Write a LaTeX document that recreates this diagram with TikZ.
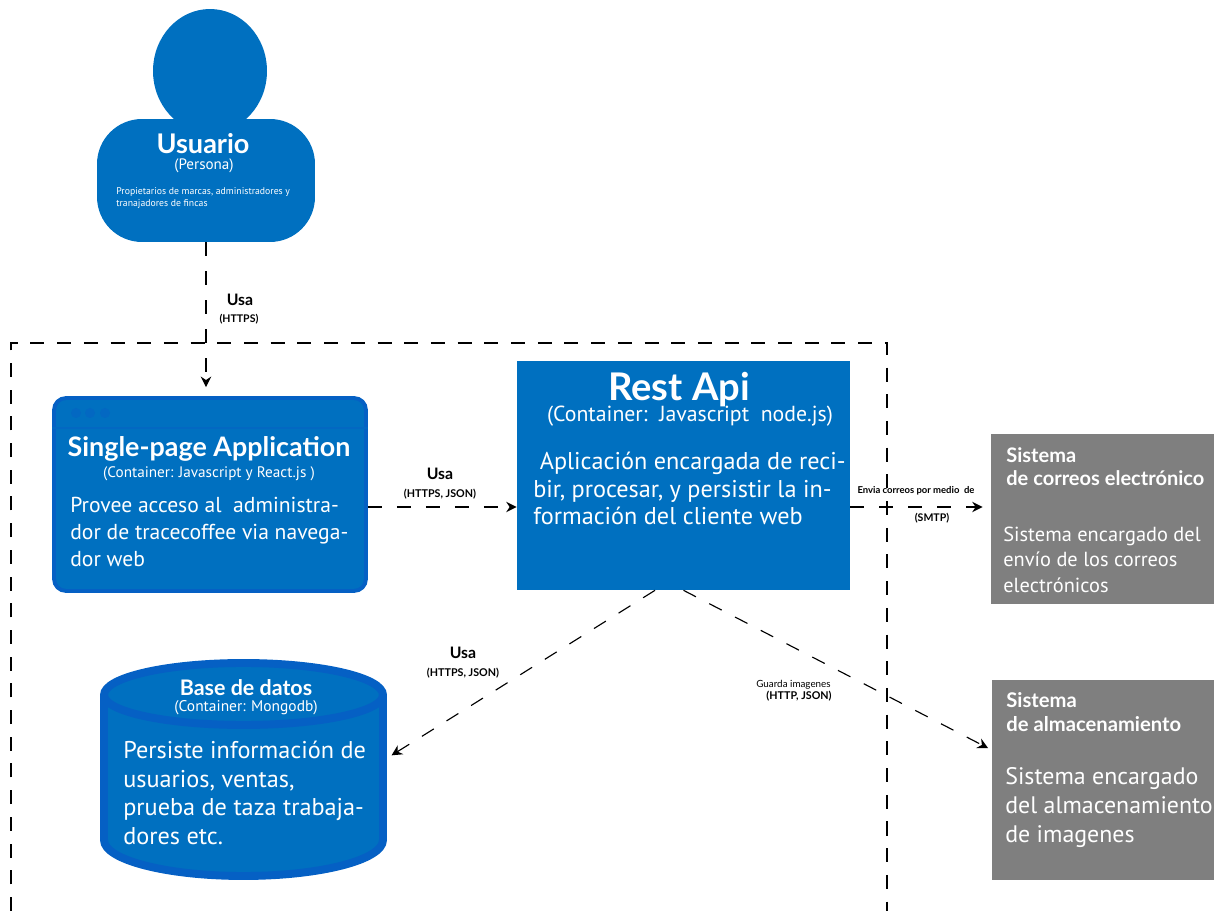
\documentclass[tikz,border=0pt]{standalone}
\usepackage{fontspec}
\usepackage{tikz}
\usepackage{xcolor}
\setmainfont{Lato}
\newfontfamily\bodyfont{PT Sans}
\usetikzlibrary{shapes.geometric, arrows.meta, positioning}
\definecolor{personblue}{RGB}{0, 112, 192}
\definecolor{edgeblue}{RGB}{5, 96, 196}
\definecolor{stripblue}{RGB}{3, 104, 194}
\definecolor{systemgray}{RGB}{127, 127, 127}
\newcommand{\fsize}[2]{\fontsize{#1}{#2}\selectfont}
\tikzset{
    dep/.style={dash pattern=on 14*0.5692pt off 15*0.5692pt, line width=0.65pt, -{Stealth[length=6pt,width=6pt,inset=2pt]}},
    persona/.style={fill=personblue, inner sep=0pt},
    container/.style={fill=personblue, draw=edgeblue, line width=2.2pt, inner sep=0pt},
    system/.style={fill=systemgray, inner sep=0pt},
    whitetext/.style={text=white, inner sep=0pt},
    leftblock/.style={whitetext, anchor=west, align=left, font=\bodyfont},
    deplabel/.style={inner sep=0pt, text=black}
}

\begin{document}
\begin{tikzpicture}[x=0.02cm, y=-0.02cm]
        \useasboundingbox (0,0) rectangle (1214,911);

        \draw[line width=0.65pt, dash pattern=on 14*0.5692pt off 12.7*0.5692pt] (11,911) -- (11,343) -- (887,343) -- (887,911);

        \node[persona, ellipse, minimum width=2.28cm, minimum height=2.48cm] (head) at (210,71) {};
        \node[persona, rectangle, rounded corners=0.9cm, minimum width=4.36cm, minimum height=2.46cm] (usuario) at (206,180.5) {};
        \node[whitetext, font=\fsize{15.4}{19}\bfseries] (usuarioname) at (203,144) {Usuario};
        \node[whitetext, font=\bodyfont\fsize{8.6}{10}] (usuariotype) at (204,166) {(Persona)};
        \node[leftblock, font=\bodyfont\fsize{5.55}{7}] (usuariotext) at (116,198) {Propietarios de marcas, administradores y\\tranajadores de fincas};

        \node[container, rectangle, rounded corners=0.24cm, minimum width=6.24cm, minimum height=3.86cm] (spa) at (210,494.5) {};
        \draw[stripblue, line width=0.6pt] (spa.west |- 0,428) -- (spa.east |- 0,428);
        \foreach \i in {76,90,105}
            \fill[stripblue] (\i,413) circle (5);
        \node[whitetext, font=\fsize{15.3}{18}\bfseries] (spaname) at (209,449) {Single-page Application};
        \node[whitetext, font=\bodyfont\fsize{8.66}{10}] (spatype) at (209,473.5) {(Container: Javascript y React.js )};
        \node[leftblock, font=\bodyfont\fsize{12.3}{15.4}] (spatext) at (70,532) {Provee acceso al\ \ administra-\\dor de tracecoffee via navega-\\dor web};

        \node[fill=personblue, rectangle, inner sep=0pt, minimum width=6.66cm, minimum height=4.58cm] (rest) at (683.5,475.5) {};
        \node[whitetext, font=\fsize{21.7}{24}\bfseries] (restname) at (679,390) {Rest Api};
        \node[whitetext, font=\bodyfont\fsize{12.4}{14}] (resttype) at (690,416) {(Container:\ \ Javascript\ \ node.js)};
        \node[leftblock, font=\bodyfont\fsize{13.8}{15.7}] (resttext) at (533,488.5) {\ Aplicación encargada de reci-\\bir, procesar, y persistir la in-\\formación del cliente web};

        \node[inner sep=0pt, minimum width=5.74cm, minimum height=4.42cm] (base) at (243.5,770) {};
        \draw[fill=personblue, draw=edgeblue, line width=4.5pt] (104,695) arc[start angle=180, end angle=360, x radius=139.5, y radius=32] -- (383,840) arc[start angle=0, end angle=180, x radius=139.5, y radius=36] -- cycle;
        \draw[edgeblue, line width=4.5pt] (104,695) arc[start angle=180, end angle=0, x radius=139.5, y radius=30];
        \node[whitetext, font=\fsize{12.2}{14}\bfseries] (basename) at (246,688) {Base de datos};
        \node[whitetext, font=\bodyfont\fsize{8.8}{10}] (basetype) at (246,708) {(Container: Mongodb)};
        \node[leftblock, font=\bodyfont\fsize{13.8}{16.3}] (basetext) at (123,793) {Persiste información de\\usuarios, ventas,\\prueba de taza trabaja-\\dores etc.};

        \node[system, rectangle, minimum width=4.46cm, minimum height=3.4cm] (correos) at (1102.5,519) {};
        \node[leftblock, font=\fsize{11.4}{13}\bfseries\color{white}] (correosname) at (1006,466.5) {Sistema\\de correos electrónico};
        \node[leftblock, font=\bodyfont\fsize{11.6}{14.5}] (correostext) at (1003,559.5) {Sistema encargado del\\envío de los correos\\electrónicos};

        \node[system, rectangle, minimum width=4.44cm, minimum height=4cm] (almacen) at (1103,780) {};
        \node[leftblock, font=\fsize{11.5}{13.6}\bfseries\color{white}] (almacenname) at (1006,712) {Sistema\\de almacenamiento};
        \node[leftblock, font=\bodyfont\fsize{13.6}{16.7}] (almacentext) at (1005,807.5) {Sistema encargado\\del almacenamiento\\de imagenes};

        \draw[dep, shorten >=0.18cm] (usuario.south) -- (usuario.south |- spa.north);
        \draw[dep] (spa.east |- 0,507) -- (rest.west |- 0,507);
        \draw[dep, shorten >=0.16cm] (rest.east |- 0,507) -- (correos.west |- 0,507);
        \draw[dep, shorten >=0.1cm] ([xshift=-0.57cm]rest.south) -- ([yshift=0.24cm]base.east);
        \draw[dep, shorten >=0.08cm] (rest.south) -- ([yshift=0.6cm]almacen.west);

        \node[deplabel, font=\fsize{9}{10}\bfseries] (usa1) at (240,300) {Usa};
        \node[deplabel, font=\fsize{6}{7}\bfseries] (https1) at (239,319) {(HTTPS)};
        \node[deplabel, font=\fsize{9}{10}\bfseries] (usa2) at (440,474) {Usa};
        \node[deplabel, font=\fsize{6.1}{7}\bfseries] (https2) at (440,494) {(HTTPS, JSON)};
        \node[deplabel, font=\fsize{9}{10}\bfseries] (usa3) at (463,653) {Usa};
        \node[deplabel, font=\fsize{6.1}{7}\bfseries] (https3) at (463,673) {(HTTPS, JSON)};
        \node[deplabel, font=\fsize{5.4}{6}\bfseries] (enviar) at (916,491) {Envia correos por medio\ \ de};
        \node[deplabel, font=\fsize{6}{7}\bfseries] (smtp) at (932,518) {(SMTP)};
        \node[deplabel, font=\fsize{5.6}{6}] (guarda) at (793.5,685) {Guarda imagenes};
        \node[deplabel, font=\fsize{6.1}{7}\bfseries, anchor=east] (http) at (832,696) {(HTTP, JSON)};
    \end{tikzpicture}
\end{document}
